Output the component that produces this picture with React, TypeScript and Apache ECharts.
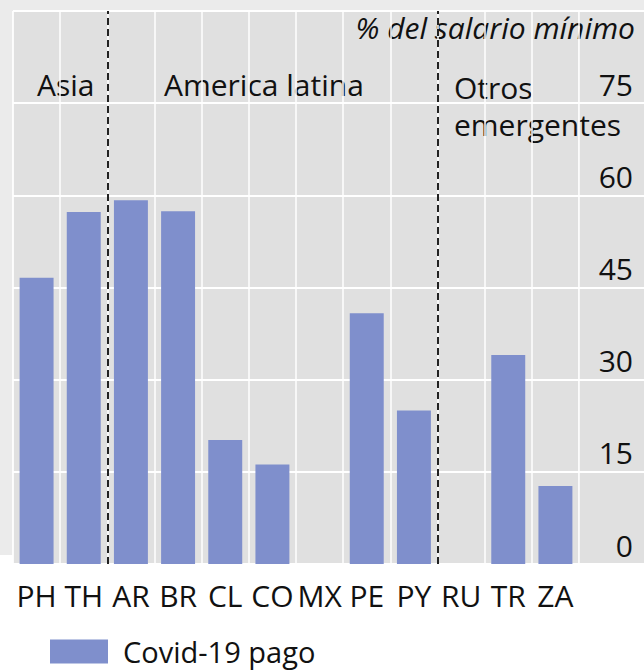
import React, { useEffect, useRef } from "react";
import * as echarts from "echarts";

const categories = ["PH", "TH", "AR", "BR", "CL", "CO", "MX", "PE", "PY", "RU", "TR", "ZA"];
const pagoValues = [46.6, 57.3, 59.2, 57.4, 20.2, 16.2, 0, 40.8, 25.0, 0, 34.0, 12.7];
const seriesName = "Covid-19 pago";
const yMin = 0;
const yMax = 90;
const yInterval = 15;
const groupBoundaries = [2, 9];
const unitLabel = "% del salario mínimo";

const FONT = "'Open Sans', 'Noto Sans', sans-serif";
const BAR = "#7f8fcc";
const PLOT_BG = "#e0e0e0";
const OUTER_BG = "#ebebeb";

export default function App() {
  const ref = useRef<HTMLDivElement>(null);
  useEffect(() => {
    if (!ref.current) return;
    const chart = echarts.init(ref.current, undefined, { renderer: "svg" });
    const yAxisCommon = {
      type: "value" as const,
      min: yMin,
      max: yMax,
      interval: yInterval,
      axisLine: { show: false },
      axisTick: { show: false },
      splitLine: { show: true, lineStyle: { color: "#ffffff", width: 2 } },
    };
    chart.setOption({
      animation: false,
      backgroundColor: "#ffffff",
      textStyle: { fontFamily: FONT },
      graphic: [
        { type: "rect", z: -10, shape: { x: 0, y: 0, width: 644, height: 10 }, style: { fill: OUTER_BG } },
        { type: "rect", z: -10, shape: { x: 0, y: 0, width: 13, height: 555 }, style: { fill: OUTER_BG } },
        {
          type: "text", right: 9, top: 12,
          style: { text: unitLabel, font: `italic 30px ${FONT}`, fill: "#111", textVerticalAlign: "top" },
        },
        { type: "text", left: 37, top: 69, style: { text: "Asia", font: `30px ${FONT}`, fill: "#111" } },
        { type: "text", left: 164, top: 69, style: { text: "America latina", font: `30px ${FONT}`, fill: "#111" } },
        {
          type: "text", left: 454, top: 69,
          style: { text: "Otros\nemergentes", font: `30px ${FONT}`, lineHeight: 37, fill: "#111" },
        },
      ],
      grid: [
        { left: 13, right: 65, top: 11, bottom: 107, show: true, backgroundColor: PLOT_BG, borderWidth: 1, borderColor: "#ffffff" },
        { left: 579, right: 0, top: 11, bottom: 107, show: true, backgroundColor: PLOT_BG, borderWidth: 0 },
      ],
      legend: {
        left: 50, top: 637, padding: 0,
        itemWidth: 58, itemHeight: 24,
        icon: "rect",
        textStyle: { fontSize: 29, lineHeight: 28, color: "#111", fontFamily: FONT, padding: [0, 0, 0, 10] },
        data: [seriesName],
      },
      xAxis: [
        {
          type: "category", gridIndex: 0, data: categories,
          axisLine: { show: false }, axisTick: { show: false },
          splitLine: { show: true, lineStyle: { color: "#ffffff", width: 1.5 } },
          axisLabel: { interval: 0, fontSize: 30, color: "#111", margin: 16, fontFamily: FONT },
        },
        { type: "category", gridIndex: 1, data: [""], show: false },
        { type: "value", gridIndex: 0, min: 0, max: categories.length, show: false },
      ],
      yAxis: [
        { ...yAxisCommon, gridIndex: 0, axisLabel: { show: false } },
        {
          ...yAxisCommon, gridIndex: 1, position: "right",
          axisLabel: {
            show: true, inside: true, showMaxLabel: false, fontSize: 30, color: "#111",
            margin: 11, verticalAlign: "bottom", lineHeight: 38, fontFamily: FONT,
          },
        },
      ],
      series: [
        {
          name: seriesName, type: "bar", xAxisIndex: 0, yAxisIndex: 0,
          data: pagoValues, barCategoryGap: "28%",
          itemStyle: { color: BAR },
        },
        {
          type: "line", xAxisIndex: 2, yAxisIndex: 0, silent: true,
          data: groupBoundaries.map((b) => [b, 0]),
          symbol: "none", lineStyle: { width: 0, opacity: 0 },
          markLine: {
            silent: true, symbol: ["none", "none"],
            label: { show: false },
            lineStyle: { color: "#222222", type: [7, 4], width: 2 },
            data: groupBoundaries.map((b) => ({ xAxis: b })),
          },
        },
      ],
    });
    return () => chart.dispose();
  }, []);
  return <div ref={ref} style={{ position: "fixed", left: 0, top: 0, width: 644, height: 671 }} />;
}
